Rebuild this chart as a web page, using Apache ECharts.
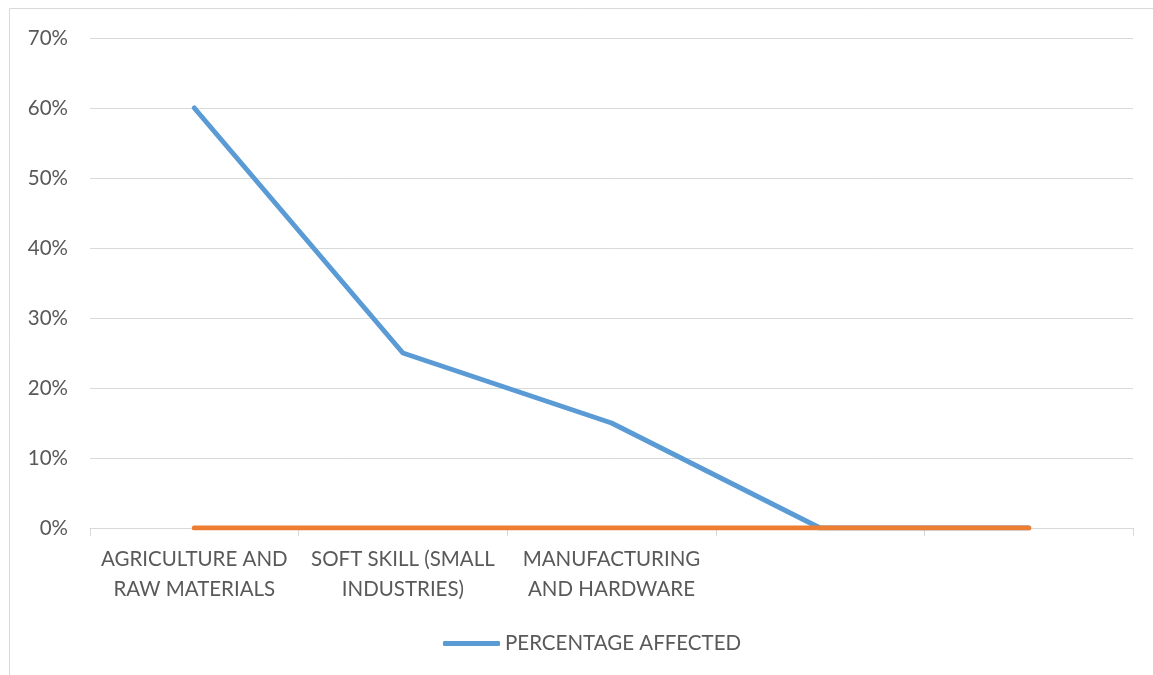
<!DOCTYPE html>
<html>
<head>
<meta charset="utf-8">
<script src="https://cdn.jsdelivr.net/npm/echarts@6/dist/echarts.min.js"></script>
<style>
html,body{margin:0;padding:0;background:#fff;}
#c{width:1153px;height:675px;}
</style>
</head>
<body>
<div id="c"></div>
<script>
const categories = ['AGRICULTURE AND\nRAW MATERIALS', 'SOFT SKILL (SMALL\nINDUSTRIES)', 'MANUFACTURING\nAND HARDWARE', '', ''];
const percentageAffected = [0.60, 0.25, 0.15, 0, 0];
const secondSeries = [0, 0, 0, 0, 0];
const yTicks = [0, 0.1, 0.2, 0.3, 0.4, 0.5, 0.6, 0.7];

const font = 'Lato, "Open Sans", sans-serif';
const chart = echarts.init(document.getElementById('c'), null, {renderer: 'canvas'});
chart.setOption({
  animation: false,
  backgroundColor: '#fff',
  graphic: [{
    type: 'rect', silent: true,
    shape: {x: 9.5, y: 8.5, width: 1300, height: 800},
    style: {fill: 'none', stroke: '#d9d9d9', lineWidth: 1}
  }],
  grid: {left: 90, right: 20, top: 38, bottom: 147},
  legend: {
    data: ['PERCENTAGE AFFECTED'],
    top: 628, left: 438,
    itemWidth: 57, itemHeight: 5, itemGap: 3,
    icon: 'roundRect',
    textStyle: {color: '#595959', fontSize: 20.5, fontFamily: font}
  },
  xAxis: {
    type: 'category',
    data: categories,
    boundaryGap: true,
    axisLine: {lineStyle: {color: '#d9d9d9', width: 1}},
    axisTick: {show: true, length: 8, lineStyle: {color: '#d9d9d9'}},
    axisLabel: {color: '#595959', fontSize: 20.5, fontFamily: font, lineHeight: 30, margin: 16, interval: 0}
  },
  yAxis: {
    type: 'value',
    min: yTicks[0], max: yTicks[yTicks.length - 1], interval: 0.1,
    axisLine: {show: false},
    axisTick: {show: false},
    splitLine: {lineStyle: {color: '#d9d9d9', width: 1}},
    axisLabel: {color: '#595959', fontSize: 20.5, fontFamily: font, margin: 22,
      formatter: v => Math.round(v * 100) + '%'}
  },
  series: [{
    name: 'PERCENTAGE AFFECTED',
    type: 'line',
    data: percentageAffected,
    symbol: 'none',
    lineStyle: {color: '#5B9BD5', width: 5, cap: 'round', join: 'round'},
    itemStyle: {color: '#5B9BD5'}
  }, {
    name: 'Series2',
    type: 'line',
    data: secondSeries,
    symbol: 'none',
    z: 3,
    lineStyle: {color: '#ED7D31', width: 5, cap: 'round'},
    itemStyle: {color: '#ED7D31'}
  }]
});
</script>
</body>
</html>
